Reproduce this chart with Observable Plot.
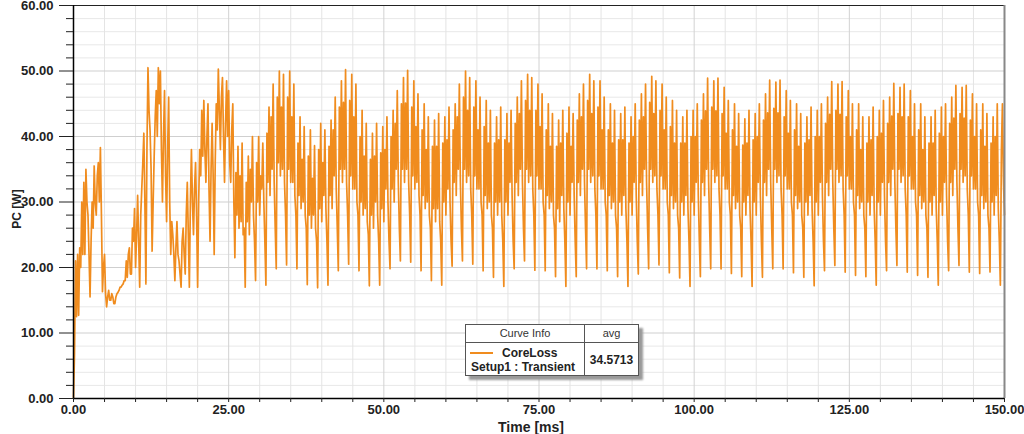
<!DOCTYPE html>
<html><head><meta charset="utf-8">
<script src="https://cdn.jsdelivr.net/npm/d3@7"></script>
<script src="https://cdn.jsdelivr.net/npm/@observablehq/plot@0.6"></script>
<style>
html,body{margin:0;padding:0;background:#fff;}
#wrap{position:relative;width:1024px;height:434px;font-family:Arial,"Liberation Sans",sans-serif;}
#wrap svg{position:absolute;left:0;top:0;}
#legend{position:absolute;left:465px;top:324px;width:172px;height:50px;border:1px solid #555;background:#fff;box-shadow:4px 4px 2px #9a9a9a;color:#222;}
#legend div{position:absolute;white-space:nowrap;}
.hdr{top:0;height:17px;line-height:17px;font-size:11px;text-align:center;color:#333;}
.b{font-weight:bold;font-size:12px;line-height:14px;}
.axt{position:absolute;font-weight:bold;color:#222;white-space:nowrap;transform:translate(-50%,-50%);}
</style></head><body>
<div id="wrap"></div>
<script>
// sampling step of the transient output, ms
const stepMs = 1/6;
// Core loss PC [W], 0 .. 24.83 ms (start-up)
const lossStartup = [
0, 7, 21, 12.5, 22, 12.7, 23, 20, 30, 22,
33, 22, 35, 30, 28, 22, 15.5, 24, 30, 26,
35.5, 30, 28, 34, 36, 30, 38.3, 28, 16.3, 20,
22, 16, 14, 15.5, 16.5, 15, 15, 16, 15.5, 14.5,
14.5, 15.5, 16, 16.2, 16.5, 17, 17, 17.3, 17.5, 18,
18, 21, 18.5, 22, 23, 19, 19, 26, 24, 29,
20, 25, 31, 24, 17, 28, 32, 36, 40.5, 30,
17.5, 38, 50.5, 44, 41, 35, 22.5, 30, 37, 43,
47, 40, 50.5, 45, 50, 38, 30, 40, 47, 34,
27, 38, 46, 30, 22, 27, 25, 22, 18, 23,
27, 22, 21, 19, 17, 24, 26, 22, 19, 28,
33, 25, 17, 30, 38, 30, 25, 32, 36, 28,
17, 30, 38, 34, 44, 37, 45.5, 38, 33, 40,
45, 32, 24, 35, 42, 34, 22, 36, 45, 41,
50.3, 44, 38, 46, 49, 40, 33, 42, 48.5, 40
];
// Core loss PC [W], 25 .. 150 ms (periodic operation)
const lossSteady = [
47, 36, 33, 41, 45, 30,
21.5, 34.5, 28, 38.5, 26, 34, 27, 39, 25, 26,
17, 33, 27, 37, 25, 35, 30, 40, 28, 24,
18, 36, 30, 40, 28, 34, 32, 39, 30, 24,
17.3, 40.5, 33, 44.5, 31, 43, 35, 48, 33, 26,
19.8, 46, 36, 50, 34, 44.5, 35, 49.5, 33, 28,
20.4, 46, 35, 50, 33, 43, 33, 48, 31, 28,
19.8, 39, 31, 43, 29, 36.5, 30, 41.5, 28, 26,
17.4, 37, 28, 41, 26, 33.6, 28, 38.6, 26, 24,
16.9, 38, 29, 42, 27, 36, 31, 41, 29, 24,
17.3, 38.5, 31, 42.5, 29, 41, 34, 46, 32, 26,
19.5, 44.5, 35, 48.5, 33, 45.2, 35, 50.2, 33, 28,
20.5, 45.5, 34, 49.5, 32, 43, 32, 48, 30, 28,
19.5, 40, 30, 44, 28, 37, 29, 42, 27, 25,
17.2, 36.5, 28, 40.5, 26, 37, 30, 42, 28, 24,
17.3, 37.5, 29, 41.5, 27, 38, 32, 43, 30, 24,
19.8, 40, 32, 44, 30, 42, 35, 47, 33, 26,
21, 45, 35, 49, 33, 45.1, 35, 50.1, 33, 28,
20.8, 44.5, 34, 48.5, 32, 41.5, 33, 46.5, 31, 28,
19.5, 41, 31, 45, 29, 38, 30, 43, 28, 26,
18, 38.5, 29, 42.5, 27, 38.5, 29, 43.5, 27, 24,
17.3, 39, 30, 43, 28, 39.5, 32, 44.5, 30, 24,
20.2, 41, 33, 45, 31, 43, 35, 48, 33, 26,
21, 46, 35, 50, 33, 44, 34, 49, 32, 28,
20.5, 44.5, 34, 48.5, 32, 41, 32, 46, 30, 28,
19.5, 41.5, 31, 45.5, 29, 39, 30, 44, 28, 26,
18.5, 39, 30, 43, 28, 39.5, 30, 44.5, 28, 24,
17.1, 39.5, 30, 43.5, 28, 39, 33, 44, 31, 24,
19.8, 42, 33, 46, 31, 43.5, 35, 48.5, 33, 26,
21, 45.5, 35, 49.5, 33, 44, 34, 49, 32, 28,
19.6, 44, 34, 48, 32, 41.5, 32, 46.5, 30, 28,
19.5, 41, 31, 45, 29, 38.5, 30, 43.5, 28, 26,
18.6, 38.5, 29, 42.5, 27, 39, 31, 44, 29, 24,
17.1, 40.5, 30, 44.5, 28, 38.5, 33, 43.5, 31, 24,
18.6, 42.5, 33, 46.5, 31, 43, 35, 48, 33, 26,
19.8, 45.5, 35, 49.5, 33, 43.5, 34, 48.5, 32, 28,
19.8, 44.5, 34, 48.5, 32, 41, 32, 46, 30, 28,
19.5, 41, 31, 45, 29, 39, 30, 44, 28, 26,
18.6, 39.5, 30, 43.5, 28, 39.5, 31, 44.5, 29, 24,
17.1, 39, 30, 43, 28, 40, 33, 45, 31, 24,
19, 42.5, 33, 46.5, 31, 43, 35, 48, 33, 26,
19.8, 45.2, 35, 49.2, 33, 43.5, 34, 48.5, 32, 28,
20.4, 44, 34, 48, 32, 41, 32, 46, 30, 28,
19.2, 41.5, 31, 45.5, 29, 39, 30, 44, 28, 26,
18.4, 39, 30, 43, 28, 39, 31, 44, 29, 24,
17.1, 40, 30, 44, 28, 40, 33, 45, 31, 24,
18.6, 42.5, 33, 46.5, 31, 43.9, 35, 48.9, 33, 26,
19.8, 44.5, 35, 48.5, 33, 43.9, 34, 48.9, 32, 28,
19.8, 43.5, 34, 47.5, 32, 40.5, 32, 45.5, 30, 28,
19.1, 41, 31, 45, 29, 38.5, 30, 43.5, 28, 26,
18.6, 38.7, 30, 42.7, 28, 39, 31, 44, 29, 24,
17.1, 39.5, 30, 43.5, 28, 40, 33, 45, 31, 24,
18.5, 42.5, 33, 46.5, 31, 43.6, 35, 48.6, 33, 26,
19.8, 44.3, 35, 48.3, 33, 43.6, 34, 48.6, 32, 28,
19.8, 43, 34, 47, 32, 40.5, 32, 45.5, 30, 28,
19.2, 41, 31, 45, 29, 38.5, 30, 43.5, 28, 26,
18.5, 39, 30, 43, 28, 39.5, 31, 44.5, 29, 24,
17.2, 40, 30, 44, 28, 40, 33, 45, 31, 24,
19.5, 42, 33, 46, 31, 43.4, 35, 48.4, 33, 26,
20.3, 44, 35, 48, 33, 43.4, 34, 48.4, 32, 28,
19.3, 43, 34, 47, 32, 40, 32, 45, 30, 28,
18.8, 41, 31, 45, 29, 38, 30, 43, 28, 26,
18.6, 39, 30, 43, 28, 39.5, 31, 44.5, 29, 24,
17.3, 40, 30, 44, 28, 40.5, 33, 45.5, 31, 24,
19.5, 42, 33, 46, 31, 43.1, 35, 48.1, 33, 26,
20.3, 43.5, 35, 47.5, 33, 43, 34, 48, 32, 28,
19.3, 43, 34, 47, 32, 40, 32, 45, 30, 28,
18.8, 41, 31, 45, 29, 38, 30, 43, 28, 26,
18.5, 39, 30, 43, 28, 39, 31, 44, 29, 24,
17.3, 40.5, 30, 44.5, 28, 40, 33, 45, 31, 24,
19.5, 42, 33, 46, 31, 42.8, 35, 47.8, 33, 26,
20.3, 43.5, 35, 47.5, 33, 42.8, 34, 47.8, 32, 28,
19.3, 42.5, 34, 46.5, 32, 40, 32, 45, 30, 28,
19.1, 41, 31, 45, 29, 38.5, 30, 43.5, 28, 26,
19.3, 39, 30, 43, 28, 40, 31, 45, 29, 24,
17.3, 38, 45, 33, 28
];
const xTicks = [0, 25, 50, 75, 100, 125, 150];
const xMinor = [5,10,15,20,30,35,40,45,55,60,65,70,80,85,90,95,105,110,115,120,130,135,140,145];
const yTicks = [0, 10, 20, 30, 40, 50, 60];
const yMinor = [2,4,6,8,12,14,16,18,22,24,26,28,32,34,36,38,42,44,46,48,52,54,56,58];
const xTitle = "Time [ms]";
const yTitle = "PC [W]";
const seriesName = "CoreLoss";
const seriesSetup = "Setup1 : Transient";
const seriesAvg = "34.5713";
const lineColor = "#f08c1e";

const data = lossStartup.concat(lossSteady).map((v, i) => ({t: i * stepMs, v}));

const chart = Plot.plot({
  width: 1024, height: 434,
  marginLeft: 73, marginRight: 20, marginTop: 5, marginBottom: 36,
  x: {domain: [0, 150]},
  y: {domain: [0, 60]},
  style: {fontFamily: "Arial, 'Liberation Sans', sans-serif", fontSize: "13px", fontWeight: "bold", color: "#222", background: "transparent"},
  marks: [
    Plot.ruleY(yMinor, {stroke: "#e8e8e8"}),
    Plot.ruleX(xMinor, {stroke: "#e4e4e4"}),
    Plot.ruleY(yTicks, {stroke: "#cfcfcf"}),
    Plot.ruleX(xTicks, {stroke: "#d2d2d2"}),
    Plot.line(data, {x: "t", y: "v", stroke: lineColor, strokeWidth: 1.7}),
    Plot.ruleY([60], {stroke: "#222", strokeWidth: 1.2}),
    Plot.ruleX([150], {stroke: "#888", strokeWidth: 2}),
    Plot.ruleX([0], {stroke: "#000", strokeWidth: 1.5}),
    Plot.ruleY([0], {stroke: "#000", strokeWidth: 1.5}),
    Plot.axisY({ticks: yTicks, tickSize: 14, tickPadding: 6, tickFormat: d => d.toFixed(2), label: null}),
    Plot.axisY({ticks: yMinor, tickSize: 7, tickFormat: () => "", label: null}),
    Plot.axisX({ticks: xTicks.concat(xMinor), tickSize: 4, tickPadding: 2, tickFormat: d => xTicks.includes(d) ? d.toFixed(2) : "", label: null})
  ]
});
const wrap = document.getElementById("wrap");
wrap.appendChild(chart);

const xt = document.createElement("div");
xt.className = "axt"; xt.textContent = xTitle;
xt.style.cssText = "left:531px;top:427px;font-size:14px;";
wrap.appendChild(xt);
const yt = document.createElement("div");
yt.className = "axt"; yt.textContent = yTitle;
yt.style.cssText = "left:17px;top:209px;font-size:12px;transform:translate(-50%,-50%) rotate(-90deg);";
wrap.appendChild(yt);

const lg = document.createElement("div");
lg.id = "legend";
lg.innerHTML =
  '<div class="hdr" style="left:0;width:118px;">Curve Info</div>' +
  '<div class="hdr" style="left:119px;width:53px;">avg</div>' +
  '<div style="left:0;top:17px;width:172px;height:1px;background:#555;"></div>' +
  '<div style="left:118px;top:0;width:1px;height:50px;background:#555;"></div>' +
  '<div style="left:4px;top:27px;width:23px;height:2px;background:' + lineColor + ';"></div>' +
  '<div class="b" style="left:36px;top:21px;">' + seriesName + '</div>' +
  '<div class="b" style="left:5px;top:35px;">' + seriesSetup + '</div>' +
  '<div class="b" style="left:119px;width:53px;top:28px;text-align:center;">' + seriesAvg + '</div>';
wrap.appendChild(lg);
</script>
</body></html>
